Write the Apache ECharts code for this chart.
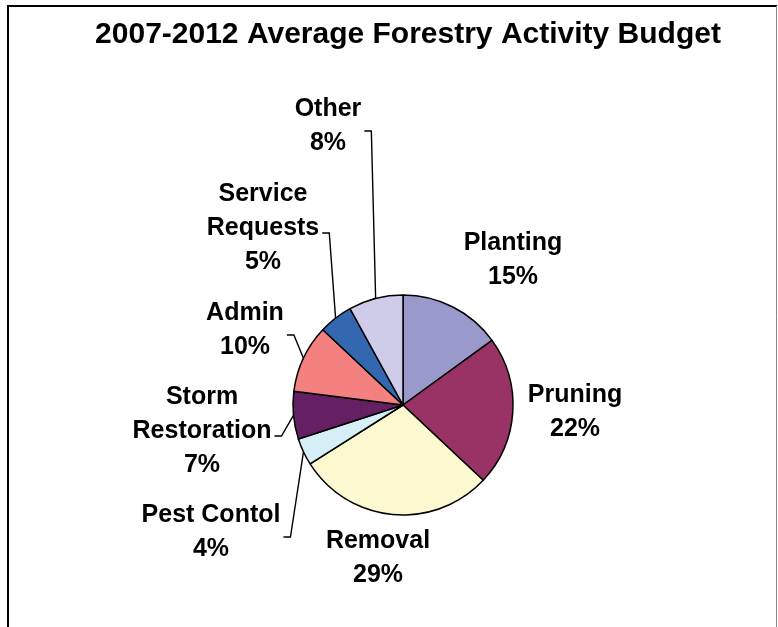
<!DOCTYPE html>
<html>
<head>
<meta charset="utf-8">
<script src="https://cdn.jsdelivr.net/npm/echarts@6/dist/echarts.min.js"></script>
<style>
  html, body { margin: 0; padding: 0; background: #fff; }
  #chart { width: 778px; height: 627px; }
</style>
</head>
<body>
<div id="chart"></div>
<script>
// Budget shares by activity (percent of the 2007-2012 average budget)
const categories = ['Planting', 'Pruning', 'Removal', 'Pest Contol', 'Storm\nRestoration', 'Admin', 'Service\nRequests', 'Other'];
const shares = [15, 22, 29, 4, 7, 10, 5, 8];
const sliceColors = ['#9999CC', '#993366', '#FCF8D0', '#D6EEF5', '#642062', '#F58080', '#3367B0', '#CECCE8'];
// slices whose label sits next to the pie without a leader line
const noLeader = ['Planting', 'Pruning', 'Removal'];

// label block centres (px) and pie geometry
const labelAnchors = [[513, 260], [575, 412], [378, 558], [211, 532], [202, 431], [245, 330], [263, 228], [328, 126]];
const pieCenter = [403, 405];
const pieRadius = 110;

const chart = echarts.init(document.getElementById('chart'), null, { renderer: 'canvas' });

const data = categories.map((name, i) => ({
  name: name,
  value: shares[i],
  itemStyle: { color: sliceColors[i] },
  labelLine: { show: noLeader.indexOf(name) < 0 }
}));

chart.setOption({
  animation: false,
  backgroundColor: '#fff',
  title: {
    text: '2007-2012 Average Forestry Activity Budget',
    left: 403,
    textAlign: 'center',
    top: 15,
    textStyle: { fontFamily: 'Liberation Sans, Arial, sans-serif', fontWeight: 'bold', fontSize: 30, color: '#000' }
  },
  graphic: [
    // chart frame
    { type: 'line', shape: { x1: 8, y1: 6, x2: 8, y2: 627 }, style: { stroke: '#000', lineWidth: 2 } },
    { type: 'line', shape: { x1: 7, y1: 6, x2: 777, y2: 6 }, style: { stroke: '#000', lineWidth: 2 } },
    { type: 'line', shape: { x1: 776.5, y1: 6, x2: 776.5, y2: 627 }, style: { stroke: '#888', lineWidth: 1 } }
  ],
  series: [{
    type: 'pie',
    center: pieCenter,
    radius: pieRadius,
    startAngle: 90,
    clockwise: true,
    avoidLabelOverlap: false,
    data: data,
    itemStyle: { borderColor: '#000', borderWidth: 1.5 },
    emphasis: { disabled: true },
    label: {
      show: true,
      position: 'outside',
      formatter: '{b}\n{d}%',
      fontFamily: 'Liberation Sans, Arial, sans-serif',
      fontWeight: 'bold',
      fontSize: 25,
      lineHeight: 34,
      color: '#000',
      align: 'center'
    },
    labelLine: {
      show: true,
      length: 10,
      length2: 10,
      lineStyle: { color: '#000', width: 1.4 }
    },
    labelLayout: function (params) {
      const a = labelAnchors[params.dataIndex];
      const r = params.labelRect;
      const out = { x: a[0], y: a[1], align: 'center', verticalAlign: 'middle' };
      if (params.labelLinePoints && noLeader.indexOf(categories[params.dataIndex]) < 0) {
        const edge = params.labelLinePoints[0];
        const sx = a[0] + r.width / 2 + 3;
        out.labelLinePoints = [[edge[0], edge[1]], [sx + 7, a[1] + 5], [sx, a[1] + 5]];
      }
      return out;
    }
  }]
});
</script>
</body>
</html>
